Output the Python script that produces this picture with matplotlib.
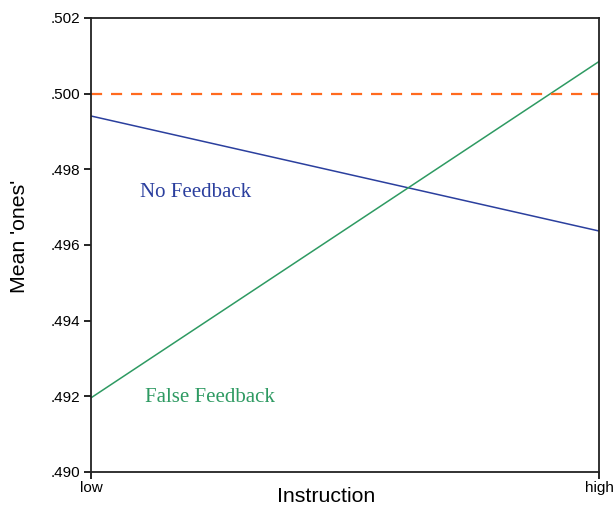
import matplotlib
matplotlib.use("Agg")
import matplotlib.pyplot as plt

categories = ["low", "high"]
no_feedback = [0.49941, 0.49637]
false_feedback = [0.49196, 0.50085]
chance = 0.500
yticks = [0.490, 0.492, 0.494, 0.496, 0.498, 0.500, 0.502]
ytick_labels = [".490", ".492", ".494", ".496", ".498", ".500", ".502"]

blue = "#2b3f9e"
green = "#2e9a62"
orange = "#ff6a1f"

fig = plt.figure(figsize=(6.13, 5.08), dpi=100)
ax = fig.add_axes([91/613, 36/508, 508/613, 454/508])

x = list(range(len(categories)))
ax.plot(x, no_feedback, color=blue, lw=1.1)
ax.plot(x, false_feedback, color=green, lw=1.1)
ax.axhline(chance, color=orange, lw=1.6, dashes=(5, 4))

ax.set_xlim(0, 1)
ax.set_ylim(0.490, 0.502)
ax.set_xticks(x)
ax.set_xticklabels(categories, fontsize=11, family="Liberation Sans")
ax.set_yticks(yticks)
ax.set_yticklabels(ytick_labels, fontsize=11, family="Liberation Sans")
ax.tick_params(direction="out", length=5, width=1.2)
ax.tick_params(axis="y", pad=3)
ax.tick_params(axis="x", pad=1.5)
for s in ax.spines.values():
    s.set_linewidth(1.3)
    s.set_color("#222222")

ax.set_xlabel("Instruction", fontsize=15.3, family="Liberation Sans")
ax.set_ylabel("Mean 'ones'", fontsize=15.3, family="Liberation Sans")
ax.xaxis.set_label_coords(0.4636, -0.055)
ax.yaxis.set_label_coords(-0.14, 0.518)
ax.xaxis.label.set_va("center")
ax.yaxis.label.set_va("center")

ax.text(0.097, 0.4974, "No Feedback", color=blue, fontsize=15,
        family="Liberation Serif", va="center", ha="left")
ax.text(0.106, 0.49198, "False Feedback", color=green, fontsize=15,
        family="Liberation Serif", va="center", ha="left")

fig.savefig("out.png", dpi=100)
